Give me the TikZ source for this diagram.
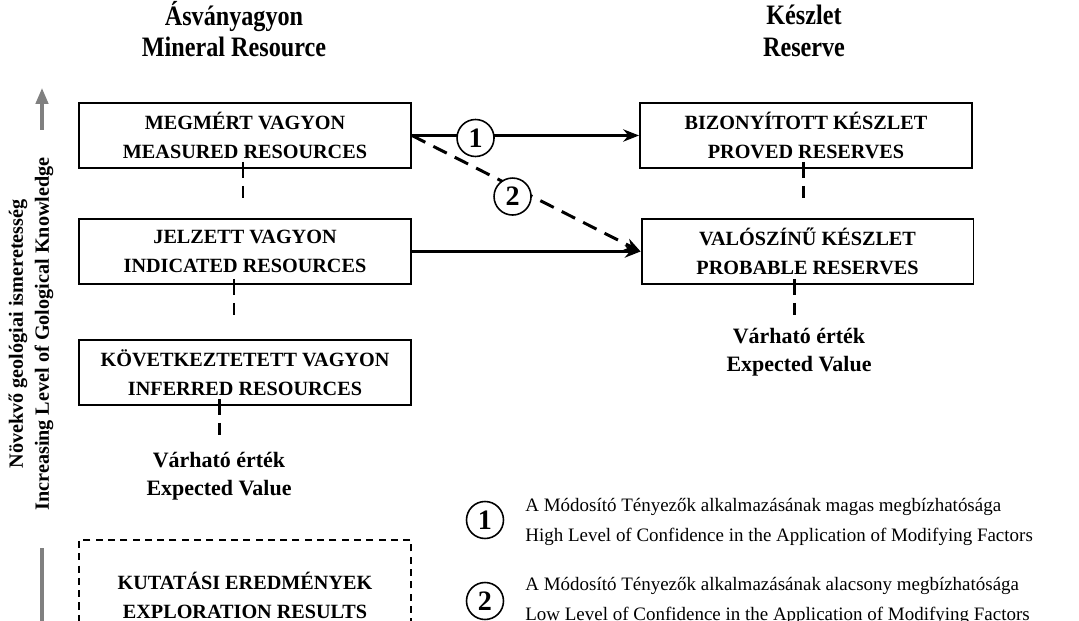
\documentclass[tikz,border=0pt]{standalone}
\usepackage{fontspec}
\setmainfont{Liberation Serif}
\usepackage{tikz}
\usetikzlibrary{arrows.meta,positioning}
\tikzstyle{head}=[font=\fontsize{16}{19}\selectfont\bfseries, align=center, inner sep=0pt]
\tikzstyle{res}=[rectangle, draw=black, line width=1.1pt, minimum width=6.64cm, minimum height=1.3cm, align=center, font=\fontsize{11.5}{16.5}\selectfont\bfseries]
\tikzstyle{expl}=[res, dashed, dash pattern=on 4pt off 3pt, minimum height=2.2cm]
\tikzstyle{expv}=[align=center, font=\fontsize{12.5}{16}\selectfont\bfseries, inner sep=0pt]
\tikzstyle{num}=[circle, draw=black, solid, line width=0.9pt, fill=white, minimum size=0.74cm, inner sep=0pt, font=\fontsize{16}{16}\selectfont\bfseries]
\tikzstyle{legend}=[anchor=west, align=left, inner sep=0pt, font=\fontsize{10.8}{17}\selectfont]
\tikzstyle{conv}=[line width=1.7pt, -{Stealth[length=9pt,width=7pt]}]
\tikzstyle{vlink}=[line width=1.7pt, dash pattern=on 0.32cm off 0.16cm on 0.24cm off 3cm]
\tikzstyle{knowarrow}=[line width=1.8pt, color=black!50]

\begin{document}
\begin{tikzpicture}[x=0.02cm,y=-0.02cm]
\useasboundingbox (0,0) rectangle (1079,621);
%Headings
\node[head] (hmin) at (234,34){\scalebox{0.86}[1]{\begin{tabular}{@{}c@{}}Ásványagyon\\[-1pt]Mineral Resource\end{tabular}}};
\node[head] (hres) at (804,34){\scalebox{0.86}[1]{\begin{tabular}{@{}c@{}}Készlet\\[-1pt]Reserve\end{tabular}}};

%Resources
\node[res] (mr) at (245,135.5){MEGMÉRT VAGYON\\MEASURED RESOURCES};
\node[res] (ir) at (245,251.5){JELZETT VAGYON\\INDICATED RESOURCES};
\node[res] (fr) at (245,372.5){KÖVETKEZTETETT VAGYON\\INFERRED RESOURCES};
\node[expv] (ev1) at (219,476){Várható érték\\Expected Value};
\node[expl] (ex) at (245,595){KUTATÁSI EREDMÉNYEK\\EXPLORATION RESULTS};

%Reserves
\node[res] (pr) at (806,135.5){BIZONYÍTOTT KÉSZLET\\PROVED RESERVES};
\node[res] (br) at (807.5,251.5){VALÓSZÍNŰ KÉSZLET\\PROBABLE RESERVES};
\node[expv] (ev2) at (799,352){Várható érték\\Expected Value};

%Links
\coordinate (c1) at ([xshift=-0.04cm,yshift=0.14cm]mr.south);
\coordinate (c2) at ([xshift=-0.22cm,yshift=0.12cm]ir.south);
\coordinate (c3) at ([xshift=-0.52cm,yshift=0.14cm]fr.south);
\coordinate (c4) at ([xshift=-0.06cm,yshift=0.14cm]pr.south);
\coordinate (c5) at ([xshift=-0.27cm,yshift=0.12cm]br.south);
\draw[vlink] (c1) -- (c1 |- ir.north);
\draw[vlink] (c2) -- (c2 |- fr.north);
\draw[vlink] (c3) -- (c3 |- ev1.north);
\draw[vlink] (c4) -- (c4 |- br.north);
\draw[vlink] (c5) -- (c5 |- ev2.north);

%Arrows
\draw[conv] (mr.east) -- node[num, pos=0.28, yshift=-0.05cm] (n1) {1} (pr.west);
\draw[conv, dashed, dash pattern=on 0.3cm off 0.18cm] (mr.east) -- node[num, pos=0.44, yshift=-0.2cm] (n2) {2} (br.west);
\draw[conv] (ir.east) -- (br.west);

%Knowledge axis
\node[rotate=90, align=center, inner sep=0pt, font=\fontsize{11.5}{14.8}\selectfont\bfseries] (know) at (31,334){Növekvő geológiai ismeretesség\\Increasing Level of Gological Knowledge};
\coordinate (kup) at (42,88);
\coordinate (klo) at (42,130);
\coordinate (kb1) at (42,548);
\coordinate (kb2) at (42,630);
\draw[knowarrow, -{Triangle[length=9pt,width=7pt]}] (klo) -- (kup);
\draw[knowarrow] (kb2) -- (kb1);

%Legend
\node[num] (l1) at (485,520){1};
\node[legend] (t1) at (525,522){A Módosító Tényezők alkalmazásának magas megbízhatósága\\High Level of Confidence in the Application of Modifying Factors};
\node[num] (l2) at (485,601){2};
\node[legend] (t2) at (525,601){A Módosító Tényezők alkalmazásának alacsony megbízhatósága\\Low Level of Confidence in the Application of Modifying Factors};
\end{tikzpicture}
\end{document}
